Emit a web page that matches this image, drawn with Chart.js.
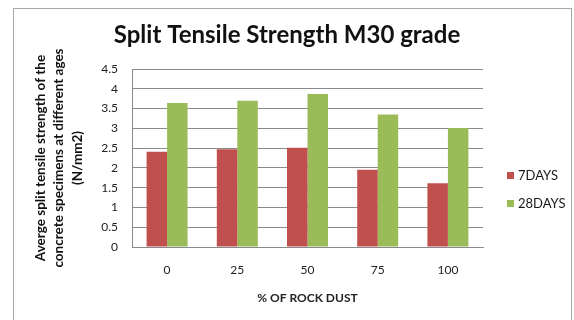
<!DOCTYPE html>
<html>
<head>
<meta charset="utf-8">
<script src="https://cdn.jsdelivr.net/npm/chart.js@4/dist/chart.umd.min.js"></script>
<style>
  html, body { margin: 0; padding: 0; background: #fff; }
  #wrap { position: relative; width: 574px; height: 320px; overflow: hidden; }
  #frame { position: absolute; left: 13px; top: 8px; width: 559px; height: 400px; border: 1px solid #a8a8a8; box-sizing: border-box; }
  #c { position: absolute; left: 0; top: 0; }
</style>
</head>
<body>
<div id="wrap">
  <div id="frame"></div>
  <canvas id="c" width="574" height="320"></canvas>
</div>
<script>
// % of rock dust replacing sand
const categories = ['0', '25', '50', '75', '100'];
// Average split tensile strength (N/mm2)
const days7 = [2.41, 2.47, 2.51, 1.95, 1.61];
const days28 = [3.64, 3.70, 3.87, 3.35, 3.01];
const seriesNames = ['7DAYS', '28DAYS'];
const yTitleLines = ['Averge split tensile strength of the', 'concrete specimens at different ages', '(N/mm2)'];

const FONT = 'Lato, Carlito, Calibri, sans-serif';
const RED = '#C0504D';
const GREEN = '#9BBB59';
const GRID = '#8a8a8a';

// Legend drawn at the right side of the plot
const sideLegend = {
  id: 'sideLegend',
  afterDraw(chart) {
    const ctx = chart.ctx;
    const rows = [175.5, 203.5];
    ctx.save();
    ctx.font = '13px ' + FONT;
    ctx.textBaseline = 'middle';
    ctx.textAlign = 'left';
    chart.data.datasets.forEach((ds, i) => {
      const y = rows[i];
      ctx.fillStyle = ds.backgroundColor;
      ctx.fillRect(507, y - 3.5, 7, 7);
      ctx.fillStyle = '#1a1a1a';
      ctx.fillText(ds.label, 518, y);
    });
    ctx.restore();
  }
};

new Chart(document.getElementById('c'), {
  type: 'bar',
  data: {
    labels: categories,
    datasets: [
      { label: seriesNames[0], data: days7, backgroundColor: RED },
      { label: seriesNames[1], data: days28, backgroundColor: GREEN }
    ]
  },
  options: {
    responsive: false,
    animation: false,
    layout: { padding: 0 },
    datasets: { bar: { categoryPercentage: 0.584, barPercentage: 1.0 } },
    plugins: {
      legend: { display: false },
      tooltip: { enabled: false },
      title: {
        display: true,
        text: 'Split Tensile Strength M30 grade',
        color: '#111',
        font: { family: FONT, size: 24, weight: 'bold', lineHeight: 1.2 },
        padding: { top: 20.6, bottom: 19.6 }
      }
    },
    scales: {
      x: {
        grid: { display: false, drawTicks: false },
        border: { display: true, color: GRID },
        ticks: { color: '#222', font: { family: FONT, size: 12 }, padding: 16 },
        title: {
          display: true,
          text: '% OF ROCK DUST',
          color: '#222',
          font: { family: FONT, size: 12, weight: 'bold' },
          padding: { top: 0, bottom: 15 }
        },
        afterFit(s) { s.height = 73; }
      },
      y: {
        min: 0,
        max: 4.5,
        ticks: {
          stepSize: 0.5,
          color: '#222',
          font: { family: FONT, size: 12 },
          padding: 14,
          callback: (v) => String(v)
        },
        grid: { color: GRID, drawTicks: false },
        border: { display: true, color: GRID },
        title: {
          display: true,
          text: yTitleLines,
          color: '#111',
          font: { family: FONT, size: 13.5, weight: 'bold', lineHeight: 1.37 },
          padding: { top: 31, bottom: 0 }
        },
        afterFit(s) { s.width = 132; }
      },
      // empty right-hand band that leaves room for the legend
      yRight: {
        position: 'right',
        display: true,
        grid: { display: false, drawTicks: false },
        border: { display: false },
        ticks: { display: false },
        afterFit(s) { s.width = 91; }
      }
    }
  },
  plugins: [sideLegend]
});
</script>
</body>
</html>
